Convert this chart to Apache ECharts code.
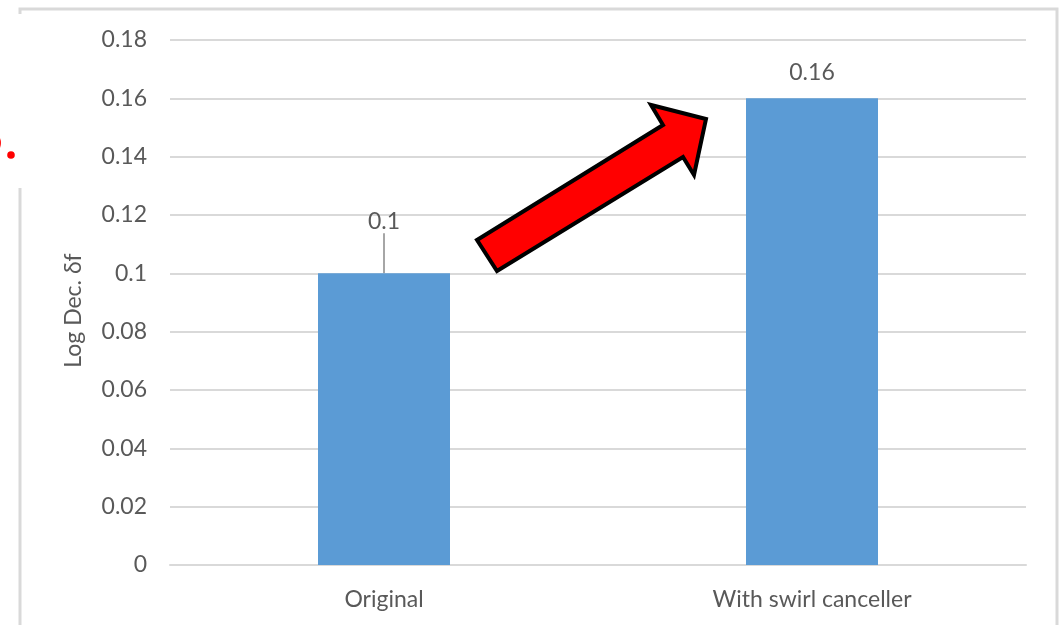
<!DOCTYPE html>
<html>
<head>
<meta charset="utf-8">
<script src="https://cdn.jsdelivr.net/npm/echarts@6/dist/echarts.min.js"></script>
<style>
  html, body { margin: 0; padding: 0; background: #ffffff; }
  #chart { width: 1064px; height: 625px; }
</style>
</head>
<body>
<div id="chart"></div>
<script>
// Log decrement before / after fitting the swirl canceller
const categories = ['Original', 'With swirl canceller'];
const logDec = [0.1, 0.16];
const yTicks = [0, 0.02, 0.04, 0.06, 0.08, 0.1, 0.12, 0.14, 0.16, 0.18];

const FONT = 'Lato';
const TEXT = '#595959';
const GRID = '#d9d9d9';

const chart = echarts.init(document.getElementById('chart'), null, { renderer: 'canvas' });

// the first bar's value label is lifted and tied back to the bar with a leader line
const barData = logDec.map((v, i) => i === 0
  ? { value: v, labelLine: { show: true, lineStyle: { color: '#a6a6a6', width: 2 } } }
  : { value: v });

chart.setOption({
  backgroundColor: '#ffffff',
  animation: false,
  textStyle: { fontFamily: FONT },
  grid: { left: 170, right: 38, top: 40, bottom: 60 },
  xAxis: {
    type: 'category',
    data: categories,
    axisLine: { show: true, lineStyle: { color: GRID, width: 2 } },
    axisTick: { show: false },
    axisLabel: { color: TEXT, fontSize: 23, fontFamily: FONT, margin: 23 }
  },
  yAxis: {
    type: 'value',
    min: yTicks[0],
    max: yTicks[yTicks.length - 1],
    interval: yTicks[1] - yTicks[0],
    name: 'Log Dec. δf',
    nameLocation: 'middle',
    nameGap: 85,
    nameTextStyle: { color: TEXT, fontSize: 23, fontFamily: FONT, padding: [0, 16, 0, 0] },
    axisLine: { show: false },
    axisTick: { show: false },
    splitLine: { lineStyle: { color: GRID, width: 2 } },
    axisLabel: {
      color: TEXT, fontSize: 23, fontFamily: FONT, margin: 23,
      formatter: v => String(parseFloat(v.toFixed(2)))
    }
  },
  series: [{
    type: 'bar',
    data: barData,
    barWidth: 132,
    itemStyle: { color: '#5b9bd5' },
    label: {
      show: true, position: 'top', distance: 14,
      color: TEXT, fontSize: 23, fontFamily: FONT
    },
    labelLayout: p => (p.dataIndex === 0 ? { dy: -26 } : {}),
    labelLine: { show: false }
  }],
  graphic: [
    // outer frame
    { type: 'polyline', silent: true, z: 50,
      shape: { points: [[20, 14], [20, 9], [1057, 9], [1057, 630]] },
      style: { stroke: GRID, lineWidth: 3, fill: null } },
    { type: 'line', silent: true, z: 50,
      shape: { x1: 20, y1: 188, x2: 20, y2: 630 },
      style: { stroke: GRID, lineWidth: 3 } },
    // trailing red caption, running off the left edge
    { type: 'text', silent: true, z: 50, x: 2, y: 159,
      style: { text: 'D', fill: '#ff0000', font: 'bold 30px Lato', align: 'right', verticalAlign: 'bottom' } },
    { type: 'circle', silent: true, z: 50,
      shape: { cx: 11, cy: 155, r: 3.8 },
      style: { fill: '#ff0000' } },
    // highlight arrow
    { type: 'polygon', silent: true, z: 100,
      shape: { points: [[477, 240], [663, 125], [651, 105], [706, 119], [694, 175], [683, 157], [497, 271]] },
      style: { fill: '#ff0000', stroke: '#000000', lineWidth: 4, lineJoin: 'miter' } }
  ]
});
</script>
</body>
</html>
